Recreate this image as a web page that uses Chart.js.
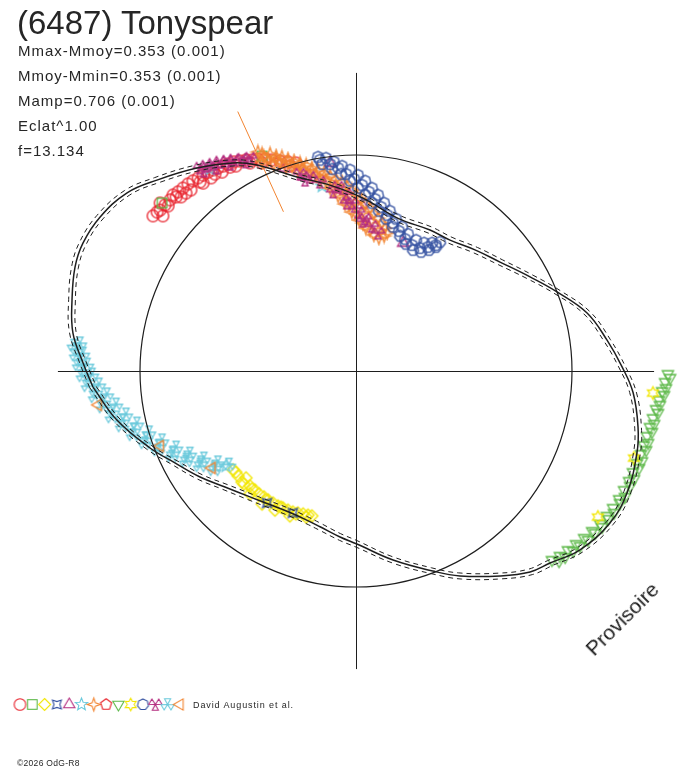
<!DOCTYPE html>
<html><head><meta charset="utf-8">
<script src="https://cdn.jsdelivr.net/npm/chart.js@4.4.1/dist/chart.umd.min.js"></script>
<style>
html,body{margin:0;padding:0;background:#fff;}
#wrap{position:relative;width:688px;height:768px;overflow:hidden;font-family:"Liberation Sans",Arial,sans-serif;color:#262626;}
#c{position:absolute;left:0;top:0;}
.t{position:absolute;white-space:nowrap;line-height:1;}
.s{font-size:15px;letter-spacing:1px;left:18px;}
</style></head><body>
<div id="wrap">
<canvas id="c" width="688" height="768"></canvas>
<div class="t" style="left:17px;top:6px;font-size:33px;">(6487) Tonyspear</div>
<div class="t s" style="top:43px">Mmax-Mmoy=0.353 (0.001)</div>
<div class="t s" style="top:68px">Mmoy-Mmin=0.353 (0.001)</div>
<div class="t s" style="top:93px">Mamp=0.706 (0.001)</div>
<div class="t s" style="top:118px">Eclat^1.00</div>
<div class="t s" style="top:143px">f=13.134</div>
<div class="t" style="left:594px;top:639px;font-size:21px;color:#1a1a1a;transform-origin:0 17.8px;transform:rotate(-45deg);">Provisoire</div>
<div class="t" style="left:193px;top:701px;font-size:9px;letter-spacing:0.9px;">David Augustin et al.</div>
<div class="t" style="left:17px;top:759px;font-size:8.5px;letter-spacing:0.3px;">©2026 OdG-R8</div>
</div>
<script>
// ---------------- DATA ----------------
// Fitted lightcurve (polar): phase angle in degrees, radius relative to mean-magnitude circle
const CURVE_ANGLE = [-176.5,-168.4,-159.5,-153.1,-145.8,-138.5,-130.1,-123.9,-115.0,-108.3,-103.0,-95.5,-89.7,-78.9,-69.0,-63.1,-54.9,-49.1,-44.7,-38.6,-30.9,-24.2,-16.3,-11.2,-4.5,0.9,7.0,14.1,21.5,28.4,37.1,45.5,54.3,62.3,74.6,87.7,98.0,106.9,115.7,120.6,128.1,136.2,142.1,149.0,154.9,159.7,166.0,172.4,178.3];
const CURVE_R    = [1.220,1.130,1.018,0.940,0.873,0.810,0.762,0.739,0.723,0.727,0.740,0.772,0.801,0.892,0.992,1.064,1.160,1.231,1.264,1.327,1.370,1.376,1.355,1.331,1.287,1.232,1.171,1.103,1.000,0.916,0.836,0.786,0.746,0.737,0.733,0.801,0.869,0.939,1.058,1.119,1.194,1.277,1.343,1.383,1.396,1.387,1.355,1.322,1.264];
const CURVE_R_HI = [1.236,1.146,1.034,0.956,0.889,0.826,0.778,0.755,0.739,0.743,0.756,0.788,0.817,0.908,1.008,1.080,1.176,1.247,1.280,1.343,1.386,1.392,1.371,1.347,1.303,1.248,1.187,1.119,1.016,0.932,0.852,0.802,0.762,0.753,0.749,0.817,0.885,0.955,1.074,1.135,1.210,1.293,1.359,1.399,1.412,1.403,1.371,1.338,1.280];
const CURVE_R_LO = [1.204,1.114,1.002,0.924,0.857,0.794,0.746,0.723,0.707,0.711,0.724,0.756,0.785,0.876,0.976,1.048,1.144,1.215,1.248,1.311,1.354,1.360,1.339,1.315,1.271,1.216,1.155,1.087,0.984,0.900,0.820,0.770,0.730,0.721,0.717,0.785,0.853,0.923,1.042,1.103,1.178,1.261,1.327,1.367,1.380,1.371,1.339,1.306,1.248];
// Phase marker (orange radial segment)
const MARK_ANGLE = 114.5;
const MARK_R = [0.81, 1.32];
const MEAN_RADIUS = 1;
const AXIS_EXTENT = 1.38;

// Observation sessions (x, y in units of the mean circle)
const S1_X = [-0.940,-0.921,-0.894,-0.884,-0.907,-0.861,-0.847,-0.824,-0.801,-0.778,-0.755,-0.731,-0.708,-0.685,-0.662,-0.639,-0.616,-0.593,-0.565,-0.537,-0.509,-0.481,-0.454,-0.421,-0.389,-0.352,-0.315,-0.278,-0.787,-0.833,-0.722,-0.653,-0.583,
              -0.907,-0.870,-0.810,-0.764,-0.708,-0.671,-0.620,-0.556,-0.491,-0.435,-0.370,-0.306];
const S1_Y = [0.718,0.736,0.718,0.769,0.778,0.792,0.815,0.829,0.847,0.866,0.880,0.894,0.907,0.921,0.931,0.940,0.949,0.958,0.968,0.972,0.977,0.977,0.981,0.981,0.977,0.972,0.968,0.963,0.824,0.806,0.875,0.912,0.944,
              0.745,0.764,0.806,0.838,0.870,0.894,0.921,0.949,0.963,0.963,0.958,0.949];
const S2_X = [-0.898,-0.435];
const S2_Y = [0.778,0.995];
const S3_X = [-0.569,-0.546,-0.528,-0.509,-0.491,-0.468,-0.449,-0.426,-0.407,-0.384,-0.361,-0.338,-0.315,-0.292,-0.269,-0.245,-0.222,-0.204,-0.491,-0.435,-0.375,-0.306,
              -0.556,-0.519,-0.481,-0.417,-0.347,-0.278,-0.231];
const S3_Y = [-0.458,-0.486,-0.514,-0.495,-0.532,-0.551,-0.569,-0.583,-0.597,-0.611,-0.625,-0.634,-0.644,-0.653,-0.657,-0.662,-0.667,-0.671,-0.569,-0.616,-0.644,-0.671,
              -0.468,-0.523,-0.546,-0.597,-0.630,-0.662,-0.676];
const S4_X = [-0.412,-0.292];
const S4_Y = [-0.611,-0.657];
const S5_X = [-0.120,0.218,0.028,-0.329];
const S5_Y = [0.963,0.593,0.769,0.940];
const S6_X = [-0.676,-0.157,-0.602];
const S6_Y = [0.935,0.856,-0.440];
const S7_X = [-0.454,-0.398,-0.343,-0.287,-0.231,-0.176,-0.120,-0.065,-0.019,0.023,0.065,0.102,0.134,
              -0.435,-0.380,-0.324,-0.269,-0.213,-0.167,-0.120,-0.083,-0.051,-0.019,0.014,0.046,0.083,
              -0.426,-0.370,-0.315,-0.259,-0.204,-0.148,-0.093,-0.046,-0.005,0.032,0.069,0.106,0.130,
              -0.435,-0.370,-0.315,-0.259,-0.204,-0.148,-0.093,-0.042,0.000,0.042,0.083,0.120,0.144,
              -0.407,-0.352,-0.296,-0.241,-0.185,-0.139,-0.102,-0.065,-0.032,0.000,0.032,0.065,0.106];
const S7_Y = [1.014,1.005,0.991,0.972,0.954,0.931,0.903,0.875,0.838,0.796,0.755,0.708,0.662,
              0.968,0.958,0.944,0.926,0.907,0.880,0.847,0.810,0.773,0.736,0.699,0.662,0.630,
              0.991,0.981,0.968,0.949,0.926,0.898,0.861,0.824,0.782,0.736,0.694,0.653,0.625,
              1.005,0.995,0.981,0.963,0.940,0.917,0.889,0.856,0.819,0.773,0.731,0.685,0.639,
              0.977,0.968,0.949,0.931,0.907,0.880,0.843,0.806,0.769,0.727,0.685,0.653,0.616];
const S8_X = [];
const S8_Y = [];
const S9_X = [0.907,0.944,0.981,1.019,1.056,1.093,1.130,1.162,1.190,1.218,1.241,1.264,1.282,1.301,1.319,1.333,1.347,1.361,1.375,1.389,1.403,1.417,1.431,1.444,
              0.968,1.037,1.106,1.167,1.222,1.269,1.310,1.343,1.370,1.398,1.426,1.454,
              0.940,1.005,1.074,1.139,1.194,1.245,1.287,1.324,1.352,1.380,1.407,1.435];
const S9_Y = [-0.875,-0.856,-0.829,-0.801,-0.773,-0.741,-0.708,-0.671,-0.634,-0.593,-0.551,-0.509,-0.468,-0.426,-0.384,-0.343,-0.301,-0.259,-0.218,-0.176,-0.134,-0.093,-0.051,-0.014,
              -0.861,-0.810,-0.750,-0.685,-0.611,-0.532,-0.449,-0.366,-0.282,-0.194,-0.111,-0.032,
              -0.880,-0.833,-0.782,-0.722,-0.657,-0.583,-0.500,-0.417,-0.333,-0.245,-0.157,-0.079];
const S10_X = [1.375,1.287,1.120];
const S10_Y = [-0.102,-0.403,-0.676];
const S11_X = [-0.176,-0.139,-0.102,-0.065,-0.028,0.009,0.042,0.074,0.102,0.130,0.157,0.185,0.213,0.241,0.278,0.315,0.352,0.389,
               -0.157,-0.111,-0.069,-0.028,0.009,0.042,0.074,0.106,0.139,0.171,0.204,0.231,0.264,0.301,0.338,0.370,
               -0.167,-0.120,-0.083,-0.046,-0.009,0.028,0.060,0.088,0.116,0.144,0.171,0.199,0.227,0.259,0.296,0.333,0.370];
const S11_Y = [0.991,0.986,0.968,0.949,0.931,0.907,0.880,0.847,0.815,0.778,0.741,0.704,0.667,0.634,0.606,0.593,0.593,0.597,
               0.958,0.935,0.912,0.880,0.847,0.815,0.778,0.741,0.704,0.667,0.625,0.588,0.560,0.551,0.560,0.574,
               0.977,0.958,0.940,0.912,0.889,0.861,0.829,0.796,0.759,0.722,0.685,0.648,0.611,0.583,0.569,0.574,0.583];
const S12_X = [-0.722,-0.694,-0.662,-0.630,-0.597,-0.565,-0.528,-0.491,-0.259,-0.213,-0.167,-0.083,-0.046,-0.019,0.009,0.042,0.074,0.102,
               -0.236,-0.106,-0.042,0.032,-0.704,-0.648,-0.583,-0.509];
const S12_Y = [0.940,0.949,0.958,0.968,0.972,0.977,0.981,0.986,0.912,0.898,0.875,0.852,0.819,0.778,0.736,0.704,0.671,0.639,
               0.884,0.829,0.778,0.694,0.926,0.940,0.958,0.968];
const S13_X = [-1.306,-1.296,-1.282,-1.264,-1.241,-1.208,-1.171,-1.130,-1.083,-1.032,-0.977,-0.917,-0.852,-0.787,-0.722,-0.657,
               -1.278,-1.264,-1.245,-1.222,-1.190,-1.153,-1.111,-1.065,-1.014,-0.958,-0.898,-0.833,-0.769,-0.704,-0.639,-0.588,
               -1.292,-1.278,-1.259,-1.236,-1.204,-1.167,-1.125,-1.079,-1.028,-0.972,-0.912,-0.847,-0.782,-0.718,-0.653];
const S13_Y = [0.120,0.074,0.028,-0.023,-0.069,-0.120,-0.167,-0.213,-0.255,-0.296,-0.333,-0.366,-0.394,-0.417,-0.440,-0.458,
               0.130,0.083,0.032,-0.014,-0.060,-0.106,-0.153,-0.199,-0.241,-0.282,-0.319,-0.352,-0.380,-0.403,-0.421,-0.431,
               0.102,0.051,0.005,-0.042,-0.093,-0.139,-0.185,-0.227,-0.269,-0.310,-0.343,-0.375,-0.398,-0.421,-0.440];
const S14_X = [-1.194,-0.907,-0.667];
const S14_Y = [-0.157,-0.347,-0.449];

const SESSION_SHAPES = ['circle','square','diamond','concave4','triUp','star5','star4','pentagon','triDown','star6','heptagon','tridentA','tridentB','triLeft'];
const SESSION_COLORS = ['#e8202a','#5cb848','#f2e600','#3350a0','#b42d7f','#6ccadc','#f28430','#e8202a','#5cb848','#f2e600','#3350a0','#b42d7f','#6ccadc','#f28430'];
const SESSION_X = [S1_X,S2_X,S3_X,S4_X,S5_X,S6_X,S7_X,S8_X,S9_X,S10_X,S11_X,S12_X,S13_X,S14_X];
const SESSION_Y = [S1_Y,S2_Y,S3_Y,S4_Y,S5_Y,S6_Y,S7_Y,S8_Y,S9_Y,S10_Y,S11_Y,S12_Y,S13_Y,S14_Y];

// ---------------- LAYOUT ----------------
const W = 688, H = 768, CX = 356, CY = 371, UNIT = 216;
const LEGEND_X0 = 20, LEGEND_DX = 12.3, LEGEND_Y = 704.5;

function makeSymbol(shape, color, lw){
  const S = 17, c = document.createElement('canvas'); c.width = S; c.height = S;
  const g = c.getContext('2d'); g.strokeStyle = color; g.lineWidth = lw;
  g.translate(S/2, S/2);
  const deg = Math.PI/180;
  const poly = (n, r, rot) => { g.beginPath(); for (let k=0;k<n;k++){ const a=(rot+k*360/n)*deg; const px=r*Math.cos(a), py=r*Math.sin(a); k?g.lineTo(px,py):g.moveTo(px,py);} g.closePath(); g.stroke(); };
  const star = (n, ro, ri, rot) => { g.beginPath(); for (let k=0;k<2*n;k++){ const a=(rot+k*180/n)*deg; const r=k%2?ri:ro; const px=r*Math.cos(a), py=r*Math.sin(a); k?g.lineTo(px,py):g.moveTo(px,py);} g.closePath(); g.stroke(); };
  const wedges = (angles, r, half) => { g.beginPath(); angles.forEach(a0 => { g.moveTo(0,0); g.lineTo(r*Math.cos((a0-half)*deg), r*Math.sin((a0-half)*deg)); g.lineTo(r*Math.cos((a0+half)*deg), r*Math.sin((a0+half)*deg)); g.closePath(); }); g.stroke(); };
  switch(shape){
    case 'circle': g.beginPath(); g.arc(0,0,5.8,0,2*Math.PI); g.stroke(); break;
    case 'square': g.strokeRect(-4.8,-4.8,9.6,9.6); break;
    case 'diamond': poly(4,6,-90); break;
    case 'concave4': star(4,6.3,2.9,-45); break;
    case 'triUp': poly(3,6.5,-90); break;
    case 'star5': star(5,6.5,2.8,-90); break;
    case 'star4': star(4,6.5,2.3,-90); break;
    case 'pentagon': poly(5,5.8,-90); break;
    case 'triDown': poly(3,6.5,90); break;
    case 'star6': star(6,6.3,3.4,-90); break;
    case 'heptagon': poly(7,5.6,-90); break;
    case 'tridentA': wedges([-150,-30,90],6.5,28); break;
    case 'tridentB': wedges([-90,30,150],6.5,28); break;
    case 'triLeft': poly(3,6.5,180); break;
  }
  return c;
}
const SYMBOLS = SESSION_SHAPES.map((s,i) => makeSymbol(s, SESSION_COLORS[i], 1.3));
const LEGEND_SYMBOLS = SESSION_SHAPES.map((s,i) => makeSymbol(s, SESSION_COLORS[i], 1.1));

function polar(angles, radii){
  return angles.map((a,i) => ({x: radii[i]*Math.cos(a*Math.PI/180), y: radii[i]*Math.sin(a*Math.PI/180)}));
}
function closed(pts){ return pts.concat([pts[0]]); }

const datasets = [];
datasets.push({label:'fit', data: closed(polar(CURVE_ANGLE, CURVE_R)), showLine:true, pointRadius:0, borderColor:'#1e1e1e', borderWidth:1.5, tension:0.4, order:0});
datasets.push({label:'fit+', data: closed(polar(CURVE_ANGLE, CURVE_R_HI)), showLine:true, pointRadius:0, borderColor:'#1e1e1e', borderWidth:1, borderDash:[5,4], tension:0.4, order:0});
datasets.push({label:'fit-', data: closed(polar(CURVE_ANGLE, CURVE_R_LO)), showLine:true, pointRadius:0, borderColor:'#1e1e1e', borderWidth:1, borderDash:[5,4], tension:0.4, order:0});
datasets.push({label:'phase0', data: polar([MARK_ANGLE, MARK_ANGLE], MARK_R), showLine:true, pointRadius:0, borderColor:'#f28430', borderWidth:1, order:1});
SESSION_X.forEach((xs, i) => {
  datasets.push({label:'Session '+(i+1), data: xs.map((v,k)=>({x:v, y:SESSION_Y[i][k]})), showLine:false, pointStyle: SYMBOLS[i], pointRadius:6, pointHoverRadius:6, order: 100 - i});
});

const decor = {
  id:'decor',
  afterDatasetsDraw(chart){
    const {ctx, scales:{x, y}} = chart;
    const cx = x.getPixelForValue(0), cy = y.getPixelForValue(0);
    const rad = x.getPixelForValue(MEAN_RADIUS) - cx;
    ctx.save();
    ctx.strokeStyle = '#1e1e1e'; ctx.lineWidth = 1.2;
    ctx.beginPath(); ctx.arc(cx, cy, rad, 0, Math.PI*2); ctx.stroke();
    ctx.lineWidth = 1;
    const ly = Math.round(cy) + 0.5, lx = Math.round(cx) + 0.5;
    ctx.beginPath();
    ctx.moveTo(x.getPixelForValue(-AXIS_EXTENT), ly); ctx.lineTo(x.getPixelForValue(AXIS_EXTENT), ly);
    ctx.moveTo(lx, y.getPixelForValue(AXIS_EXTENT)); ctx.lineTo(lx, y.getPixelForValue(-AXIS_EXTENT));
    ctx.stroke();
    LEGEND_SYMBOLS.forEach((img, i) => { ctx.drawImage(img, LEGEND_X0 + LEGEND_DX*i - img.width/2, LEGEND_Y - img.height/2); });
    ctx.restore();
  }
};

new Chart(document.getElementById('c'), {
  type: 'scatter',
  data: { datasets },
  options: {
    responsive: false, animation: false, devicePixelRatio: 1, events: [],
    layout: { padding: 0, autoPadding: false },
    plugins: { legend: { display:false }, tooltip: { enabled:false }, title: { display:false } },
    scales: {
      x: { type:'linear', display:false, min: -CX/UNIT, max: (W-CX)/UNIT },
      y: { type:'linear', display:false, min: -(H-CY)/UNIT, max: CY/UNIT }
    }
  },
  plugins: [decor]
});
</script>
</body></html>
